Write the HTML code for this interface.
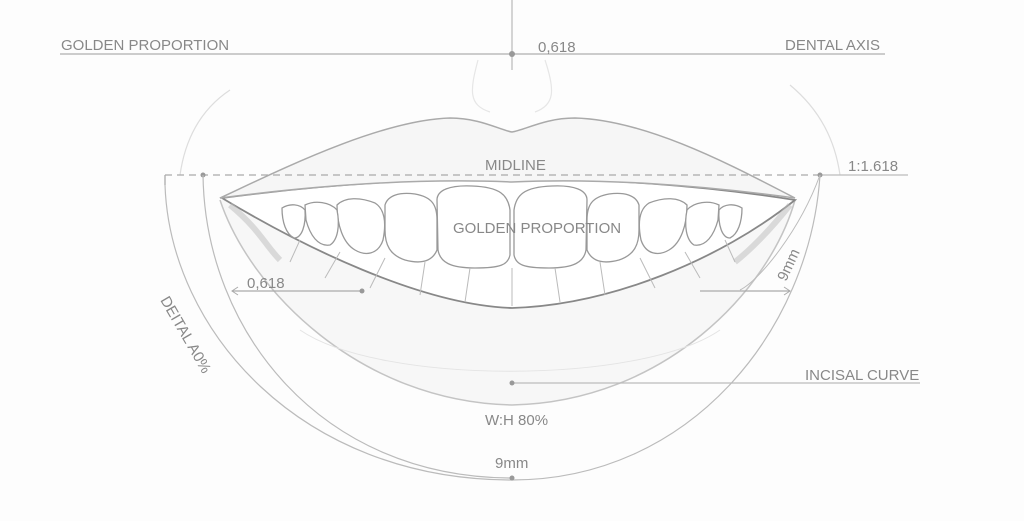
<!DOCTYPE html>
<html><head><style>
html,body{margin:0;padding:0;background:#fff;}
svg{display:block}
text{font-family:"Liberation Sans",sans-serif;fill:#888;font-size:15px;}
</style></head><body>
<svg width="1024" height="521" viewBox="0 0 1024 521">
<rect width="1024" height="521" fill="#fdfdfd"/>
<path d="M180,175 C185,140 200,110 230,90" fill="none" stroke="#ddd" stroke-width="1.2"/>
<path d="M840,175 C835,140 820,110 790,85" fill="none" stroke="#ddd" stroke-width="1.2"/>
<path d="M478,60 C470,90 468,105 490,112 M545,60 C555,90 555,105 535,112" fill="none" stroke="#e6e6e6" stroke-width="1.2"/>
<line x1="60" y1="54" x2="885" y2="54" stroke="#bbb" stroke-width="1.5"/>
<line x1="512" y1="0" x2="512" y2="70" stroke="#aaa" stroke-width="1"/>
<circle cx="512" cy="54" r="3" fill="#999"/>
<text x="61" y="50">GOLDEN PROPORTION</text>
<text x="538" y="52">0,618</text>
<text x="785" y="50">DENTAL AXIS</text>
<path d="M220,200 C250,290 360,402 512,405 C664,402 770,290 795,200" fill="#f7f7f7" stroke="#c4c4c4" stroke-width="1.5"/>
<path d="M300,330 C380,385 640,385 720,330" fill="none" stroke="#e4e4e4" stroke-width="1"/>
<path d="M222,198 C300,245 420,305 512,308 C610,305 720,260 795,200 C700,185 600,178 512,180 C420,178 320,185 222,198 Z" fill="#fff" stroke="#888" stroke-width="1.8"/>
<path d="M230,205 C260,230 265,245 280,260 M790,205 C770,230 750,250 735,262" stroke="#bbb" stroke-width="6" fill="none" opacity="0.5"/>
<g fill="#fff" stroke="#999" stroke-width="1.3">
<path d="M437,200 C437,190 450,185 472,186 C500,187 508,195 510,210 L510,255 C508,265 500,268 475,268 C450,268 440,262 438,250 Z"/>
<path d="M587,200 C587,190 574,185 552,186 C524,187 516,195 514,210 L514,255 C516,265 524,268 549,268 C574,268 584,262 586,250 Z"/>
<path d="M385,205 C388,195 400,192 415,194 C432,197 437,205 437,220 L437,250 C432,262 420,264 405,260 C390,255 385,245 385,230 Z"/>
<path d="M639,205 C636,195 624,192 609,194 C592,197 587,205 587,220 L587,250 C592,262 604,264 619,260 C634,255 639,245 639,230 Z"/>
<path d="M337,205 C345,197 360,197 375,203 C386,210 386,225 383,240 C378,255 365,256 355,250 C343,243 337,225 337,205 Z"/>
<path d="M687,205 C679,197 664,197 649,203 C638,210 638,225 641,240 C646,255 659,256 669,250 C681,243 687,225 687,205 Z"/>
<path d="M305,205 C315,200 330,202 337,210 C340,225 338,240 330,245 C318,247 310,235 306,220 Z"/>
<path d="M719,205 C709,200 694,202 687,210 C684,225 686,240 694,245 C706,247 714,235 718,220 Z"/>
<path d="M282,208 C290,203 300,204 305,210 C306,225 302,238 294,238 C286,234 282,222 282,208 Z"/>
<path d="M742,208 C734,203 724,204 719,210 C718,225 722,238 730,238 C738,234 742,222 742,208 Z"/>
</g>
<g stroke="#bbb" stroke-width="1" fill="none">
<path d="M512,268 L512,306 M470,268 L465,302 M555,268 L560,302 M425,262 L420,295 M600,262 L605,295 M385,258 L370,288 M640,258 L655,288 M340,252 L325,278 M685,252 L700,278 M300,240 L290,262 M725,240 L735,262"/>
</g>
<path d="M220,198 C280,170 380,120 450,118 C480,118 500,130 512,132 C525,130 545,118 575,118 C650,120 740,170 795,198 C700,185 600,178 512,182 C420,178 320,185 220,198 Z" fill="#f6f6f6" stroke="#aaa" stroke-width="1.5"/>
<line x1="165" y1="175" x2="820" y2="175" stroke="#aaa" stroke-width="1.3" stroke-dasharray="7,5"/>
<line x1="165" y1="175" x2="165" y2="185" stroke="#aaa" stroke-width="1.3"/>
<line x1="820" y1="175" x2="908" y2="175" stroke="#bbb" stroke-width="1.2"/>
<circle cx="203" cy="175" r="2.5" fill="#999"/><circle cx="820" cy="175" r="2.5" fill="#999"/>
<text x="485" y="170">MIDLINE</text>
<text x="848" y="171">1:1.618</text>
<text x="453" y="233">GOLDEN PROPORTION</text>
<path d="M165,185 C170,330 300,480 512,480 C690,480 810,330 820,175" fill="none" stroke="#bbb" stroke-width="1.2"/>
<path d="M203,175 C205,330 320,478 512,478" fill="none" stroke="#bbb" stroke-width="1.2"/>
<path d="M820,175 C800,230 760,280 740,290" fill="none" stroke="#bbb" stroke-width="1"/>
<circle cx="512" cy="478" r="2.5" fill="#999"/>
<line x1="232" y1="291" x2="362" y2="291" stroke="#aaa" stroke-width="1.2"/>
<path d="M238,287 L232,291 L238,295" fill="none" stroke="#aaa"/>
<circle cx="362" cy="291" r="2.5" fill="#999"/>
<line x1="700" y1="291" x2="790" y2="291" stroke="#aaa" stroke-width="1.2"/>
<path d="M784,287 L790,291 L784,295" fill="none" stroke="#aaa"/>
<text x="247" y="288">0,618</text>
<text transform="translate(786,282) rotate(-65)">9mm</text>
<text transform="translate(160,300) rotate(60)">DEITAL A0%</text>
<line x1="512" y1="383" x2="920" y2="383" stroke="#bbb" stroke-width="1.2"/>
<circle cx="512" cy="383" r="2.5" fill="#999"/>
<text x="805" y="380">INCISAL CURVE</text>
<text x="485" y="425">W:H 80%</text>
<text x="495" y="468">9mm</text>
</svg>
</body></html>
